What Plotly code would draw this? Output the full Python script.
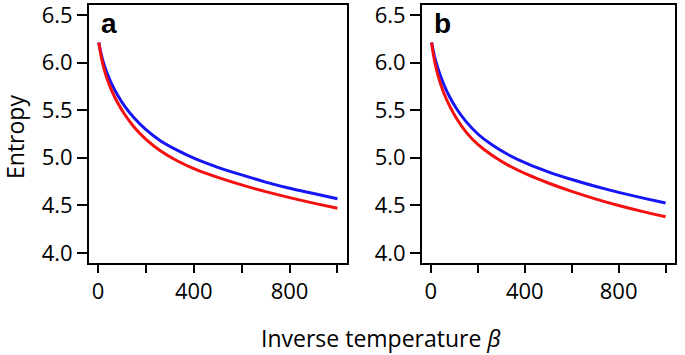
import plotly.graph_objects as go

# Inverse temperature (beta) grid
beta = [3, 10, 20, 35, 55, 80, 110, 150, 200, 260, 330, 410, 500, 600, 700, 800, 900, 1000]

# Panel a
entropy_a_blue = [6.21, 6.12, 6.02, 5.905, 5.785, 5.665, 5.545, 5.42, 5.295, 5.18, 5.08, 4.985,
                  4.90, 4.82, 4.745, 4.68, 4.625, 4.57]
entropy_a_red = [6.21, 6.10, 5.98, 5.848, 5.716, 5.586, 5.46, 5.324, 5.194, 5.074, 4.969, 4.875,
                 4.794, 4.715, 4.645, 4.582, 4.524, 4.47]

# Panel b
entropy_b_blue = [6.21, 6.12, 6.02, 5.90, 5.77, 5.638, 5.512, 5.38, 5.25, 5.136, 5.032, 4.938,
                  4.852, 4.772, 4.701, 4.637, 4.579, 4.526]
entropy_b_red = [6.21, 6.09, 5.966, 5.824, 5.68, 5.542, 5.41, 5.27, 5.14, 5.026, 4.921, 4.825,
                 4.735, 4.647, 4.569, 4.499, 4.437, 4.381]

x_tickvals = [0, 200, 400, 600, 800, 1000]
x_ticktext = ["0", "", "400", "", "800", ""]
y_tickvals = [4.0, 4.5, 5.0, 5.5, 6.0, 6.5]
y_ticktext = ["4.0", "4.5", "5.0", "5.5", "6.0", "6.5"]
panel_labels = ["a", "b"]

W, H = 685, 355
FONT = "Open Sans"
FS = 23
TFS = 22

fig = go.Figure()

blue = "#1515f5"
red = "#f51010"
for i, (yb, yr) in enumerate([(entropy_a_blue, entropy_a_red), (entropy_b_blue, entropy_b_red)]):
    xa = "x" if i == 0 else "x2"
    ya = "y" if i == 0 else "y2"
    fig.add_trace(go.Scatter(x=beta, y=yb, mode="lines",
                             line=dict(color=blue, width=3, shape="spline", smoothing=0.6),
                             xaxis=xa, yaxis=ya, showlegend=False))
    fig.add_trace(go.Scatter(x=beta, y=yr, mode="lines",
                             line=dict(color=red, width=3, shape="spline", smoothing=0.6),
                             xaxis=xa, yaxis=ya, showlegend=False))

ytop = 1 - 4.5 / H
ybot = 1 - 263 / H
doms = [[89 / W, 347 / W], [422 / W, 675 / W]]

axis_common = dict(showline=True, mirror=True, linewidth=2, linecolor="black", showgrid=False,
                   zeroline=False, ticks="outside", tickwidth=2, tickcolor="black", automargin=False,
                   ticklabeloverflow="allow",
                   tickfont=dict(family=FONT, size=TFS, color="black"))

for i in range(2):
    sfx = "" if i == 0 else "2"
    fig.update_layout(**{
        "xaxis" + sfx: dict(axis_common, domain=doms[i], range=[-38, 1040], tickvals=x_tickvals,
                            ticktext=x_ticktext, ticklen=8, anchor="y" + sfx),
        "yaxis" + sfx: dict(axis_common, domain=[ybot, ytop], range=[3.895, 6.61], tickvals=y_tickvals,
                            ticktext=y_ticktext, ticklen=10, anchor="x" + sfx),
    })
    fig.add_annotation(text="<b>%s</b>" % panel_labels[i], xref="paper", yref="paper",
                       x=doms[i][0] + 10 / W, y=ytop - 2 / H, xanchor="left", yanchor="top",
                       showarrow=False, font=dict(family="Liberation Sans", size=28, color="black"))

fig.add_annotation(text="Inverse temperature <i>β</i>", xref="paper", yref="paper",
                   x=381 / W, y=1 - 338 / H, xanchor="center", yanchor="middle",
                   showarrow=False, font=dict(family=FONT, size=FS, color="black"))
fig.add_annotation(text="Entropy", xref="paper", yref="paper", textangle=-90,
                   x=15 / W, y=1 - 137 / H, xanchor="center", yanchor="middle",
                   showarrow=False, font=dict(family=FONT, size=FS, color="black"))

fig.update_layout(width=W, height=H, margin=dict(l=0, r=0, t=0, b=0),
                  paper_bgcolor="white", plot_bgcolor="white")

fig.write_html("out.html", config={"displayModeBar": False},
               post_script="document.body.style.margin='0';document.body.style.padding='0';"
                           "document.body.style.overflow='hidden';")
